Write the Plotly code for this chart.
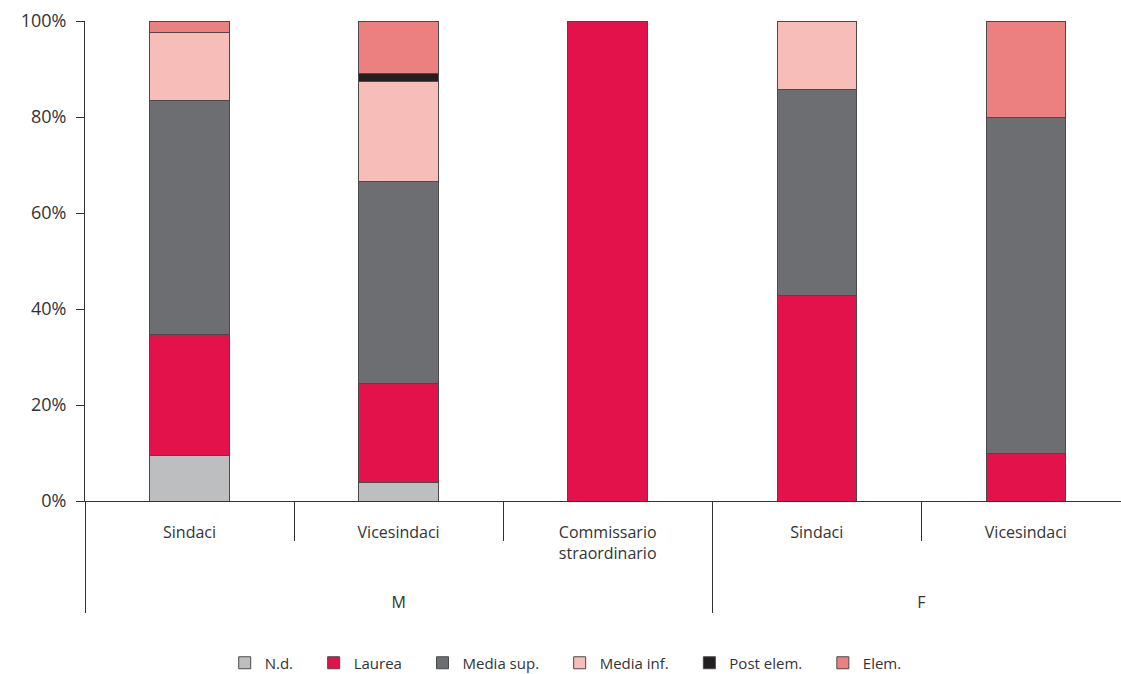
import plotly.graph_objects as go

genders = ["M", "M", "M", "F", "F"]
roles = ["Sindaci", "Vicesindaci", "Commissario<br>straordinario", "Sindaci", "Vicesindaci"]

series_names = ["N.d.", "Laurea", "Media sup.", "Media inf.", "Post elem.", "Elem."]
nd = [9.4, 3.8, 0.0, 0.0, 0.0]
laurea = [25.2, 20.6, 100.0, 42.86, 10.0]
media_sup = [48.9, 42.1, 0.0, 42.86, 70.0]
media_inf = [14.2, 21.0, 0.0, 14.28, 0.0]
post_elem = [0.0, 1.5, 0.0, 0.0, 0.0]
elem = [2.3, 11.0, 0.0, 0.0, 20.0]

y_tick_vals = [0, 20, 40, 60, 80, 100]
y_tick_text = ["0%", "20%", "40%", "60%", "80%", "100%"]

colors = ["#BDBEC0", "#E3124B", "#6D6E71", "#F7BDB9", "#231F20", "#EC7F80"]
values = [nd, laurea, media_sup, media_inf, post_elem, elem]

outer_labels = [" <br> <br>" + g for g in genders]
pad = "\u00a0" * 4

fig = go.Figure()
for i, (name, vals, col) in enumerate(zip(series_names, values, colors)):
    label = name if i == len(series_names) - 1 else name + pad
    fig.add_trace(go.Bar(
        x=[outer_labels, roles], y=vals, name=label,
        marker=dict(color=col, line=dict(color="#4a4a4a", width=1)),
        width=0.38,
    ))

font_family = "'Open Sans', 'DejaVu Sans', sans-serif"
fig.update_layout(
    barmode="stack",
    width=1121, height=674,
    margin=dict(l=85, r=0, t=21, b=173),
    plot_bgcolor="white", paper_bgcolor="white",
    font=dict(family=font_family, size=16, color="#333333"),
    showlegend=True,
    legend=dict(orientation="h", x=0.464, xanchor="center",
                yref="container", y=1 - 663 / 674, yanchor="middle",
                font=dict(size=15, color="#333333"), itemwidth=30,
                traceorder="normal"),
    bargap=0.62,
)
fig.update_xaxes(
    type="multicategory", automargin=False,
    range=[-0.5, 4.455],
    showline=True, linecolor="#333333", linewidth=1,
    ticks="outside", tickson="boundaries", ticklen=39, tickcolor="#333333",
    showdividers=True, dividercolor="#333333", dividerwidth=1,
    tickfont=dict(size=16, color="#333333"),
    ticklabelstandoff=17,
    showgrid=False,
)
fig.update_yaxes(
    range=[0, 100], tickvals=y_tick_vals, ticktext=y_tick_text, automargin=False,
    showline=True, linecolor="#333333", linewidth=1,
    ticks="outside", ticklen=8, tickcolor="#333333",
    showgrid=False, zeroline=False,
    tickfont=dict(size=18, color="#333333"),
    ticklabelstandoff=6,
)
fig.write_html("out.html", config={"displayModeBar": False},
               post_script="document.body.style.margin='0';document.body.style.overflow='hidden';")
